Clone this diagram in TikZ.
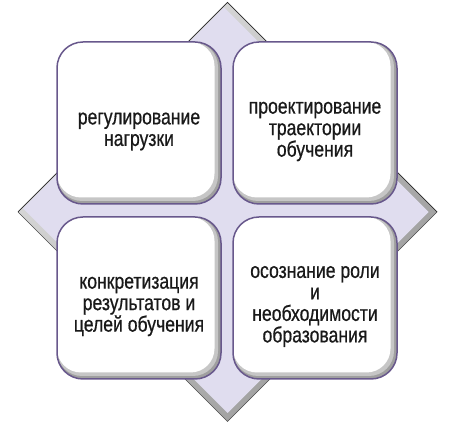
\documentclass[tikz,border=0pt]{standalone}
\usepackage{fontspec}
\setmainfont{Liberation Sans}
\newfontfamily\boxfont[FakeStretch=0.8,FakeBold=0.6]{Liberation Sans}
\usetikzlibrary{positioning}
\definecolor{lavender}{RGB}{224,221,239}
\definecolor{boxline}{RGB}{104,88,140}

\begin{document}
\begin{tikzpicture}[x=1pt,y=1pt,
  box/.style={draw=boxline,line width=1.5pt,rounded corners=26pt,minimum width=164pt,minimum height=162pt,fill=gray!75,
    path picture={
      \fill[gray!45,rounded corners=25pt] (path picture bounding box.north west) rectangle ([shift={(-3,3)}]path picture bounding box.south east);
      \fill[white,rounded corners=24pt] (path picture bounding box.north west) rectangle ([shift={(-6.5,6.5)}]path picture bounding box.south east);}},
  txt/.style={align=center,font=\boxfont\fontsize{22}{21.5}\selectfont,text=black!90},
  node distance=11.5pt and 10.5pt]
\useasboundingbox (0,0) rectangle (457,427);
\coordinate (top) at (227.5,424.5);
\coordinate (right) at (437,215);
\coordinate (bottom) at (227.5,5.5);
\coordinate (left) at (18,215);
\shade[top color=gray!25,bottom color=gray!80,shading angle=45] (top) -- (right) -- (bottom) -- (left) -- cycle;
\fill[lavender] (224,419.5) -- (428.5,215) -- (227.5,14) -- (23,218.5) -- cycle;
\draw[black!85,line width=0.7pt] (left) -- (top) -- (right);
\draw[gray!60!black,line width=0.5pt] (right) -- (bottom) -- (left);

\node[box] (load) at (139,304) {};
\node[box,right=of load] (path) {};
\node[box,below=of load] (goals) {};
\node[box,below=of path] (role) {};

\node[txt] (loadtext) at ([yshift=-8.5pt]load.center) {регулирование\\нагрузки};
\node[txt] (pathtext) at ([yshift=-8.5pt]path.center) {проектирование\\траектории\\обучения};
\node[txt] (goalstext) at ([yshift=-8.5pt]goals.center) {конкретизация\\результатов и\\целей обучения};
\node[txt] (roletext) at ([yshift=-8.5pt]role.center) {осознание роли\\и\\необходимости\\образования};
\end{tikzpicture}
\end{document}
